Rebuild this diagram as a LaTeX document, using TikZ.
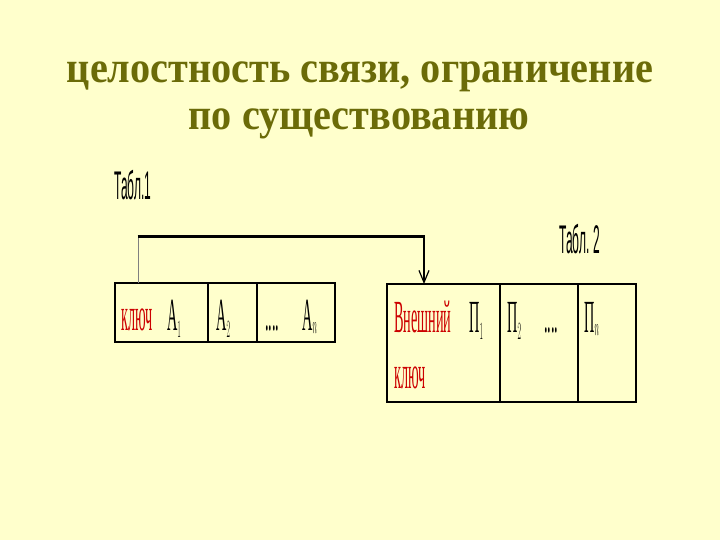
\documentclass[tikz,border=0pt]{standalone}
\usepackage{fontspec}
\usepackage{graphicx}
\setmainfont{Liberation Serif}
\newfontfamily\labelfont{Liberation Sans}
\usetikzlibrary{arrows.meta}
\definecolor{bg}{HTML}{FFFFCC}
\definecolor{titlecol}{HTML}{6B6B08}
\definecolor{keyred}{HTML}{CC0000}
\tikzset{
  titletext/.style={text=titlecol, font=\fontsize{44}{50}\selectfont\bfseries, inner sep=0pt, anchor=base},
  tbl/.style={draw=black, line width=2.2pt, inner sep=0pt},
  divider/.style={draw=black, line width=1.4pt},
  celltext/.style={font=\fontsize{46}{50}\selectfont, inner sep=0pt, anchor=base west},
  redtext/.style={celltext, text=keyred},
  tablabel/.style={font=\labelfont\fontsize{40}{44}\selectfont, inner sep=0pt, anchor=base west},
  linkthick/.style={line width=3pt},
  linkthin/.style={draw=gray, line width=0.8pt}
}
\newcommand{\cnd}[1]{\scalebox{0.31}[1]{#1}}
\begin{document}
\begin{tikzpicture}[x=1pt,y=-1pt]
\fill[bg] (0,0) rectangle (720,540);
\useasboundingbox (0,0) rectangle (720,540);
% title
\node[titletext] (title1) at (360,83) {\scalebox{0.915}[1]{целостность связи, ограничение}};
\node[titletext] (title2) at (359,130) {\scalebox{0.915}[1]{по существованию}};
% table labels
\node[tablabel] (lab1) at (114,200) {\scalebox{0.3}[1]{Табл.1}};
\node[tablabel] (lab2) at (559,253) {\scalebox{0.3}[1]{Табл. 2}};
% table 1
\node[tbl, minimum width=220pt, minimum height=59pt] (tab1) at (225,312.5) {};
\draw[divider] (208,283) -- (208,342);
\draw[divider] (257,283) -- (257,342);
\node[redtext] (key1) at (121,330) {\cnd{ключ}};
\node[celltext] (a1) at (167,330) {\cnd{А$_1$}};
\node[celltext] (a2) at (216,330) {\cnd{А$_2$}};
\node[celltext] (dots1) at (265,330) {\cnd{....}};
\node[celltext] (an) at (302,330) {\cnd{А$_n$}};
% table 2
\node[tbl, minimum width=249pt, minimum height=118pt] (tab2) at (511.5,343) {};
\draw[divider] (500,284) -- (500,402);
\draw[divider] (578,284) -- (578,402);
\node[redtext] (ext1) at (394,332) {\cnd{Внешний}};
\node[redtext] (ext2) at (394,388) {\cnd{ключ}};
\node[celltext] (p1) at (469,332) {\cnd{П$_1$}};
\node[celltext] (p2) at (507,332) {\cnd{П$_2$}};
\node[celltext] (dots2) at (544,332) {\cnd{....}};
\node[celltext] (pn) at (584,332) {\cnd{П$_n$}};
% link
\coordinate (src) at (138,283);
\coordinate (c1) at (138,236.5);
\coordinate (c2) at (424,236.5);
\coordinate (dst) at (424,284);
\draw[linkthin] (src) -- (c1);
\draw[linkthick] ([xshift=-0.4pt]c1) -- ([xshift=0.7pt]c2);
\draw[line width=1.4pt, -{Straight Barb[length=12pt,width=10pt,line width=1.2pt]}] (c2) -- (dst);
\end{tikzpicture}
\end{document}
